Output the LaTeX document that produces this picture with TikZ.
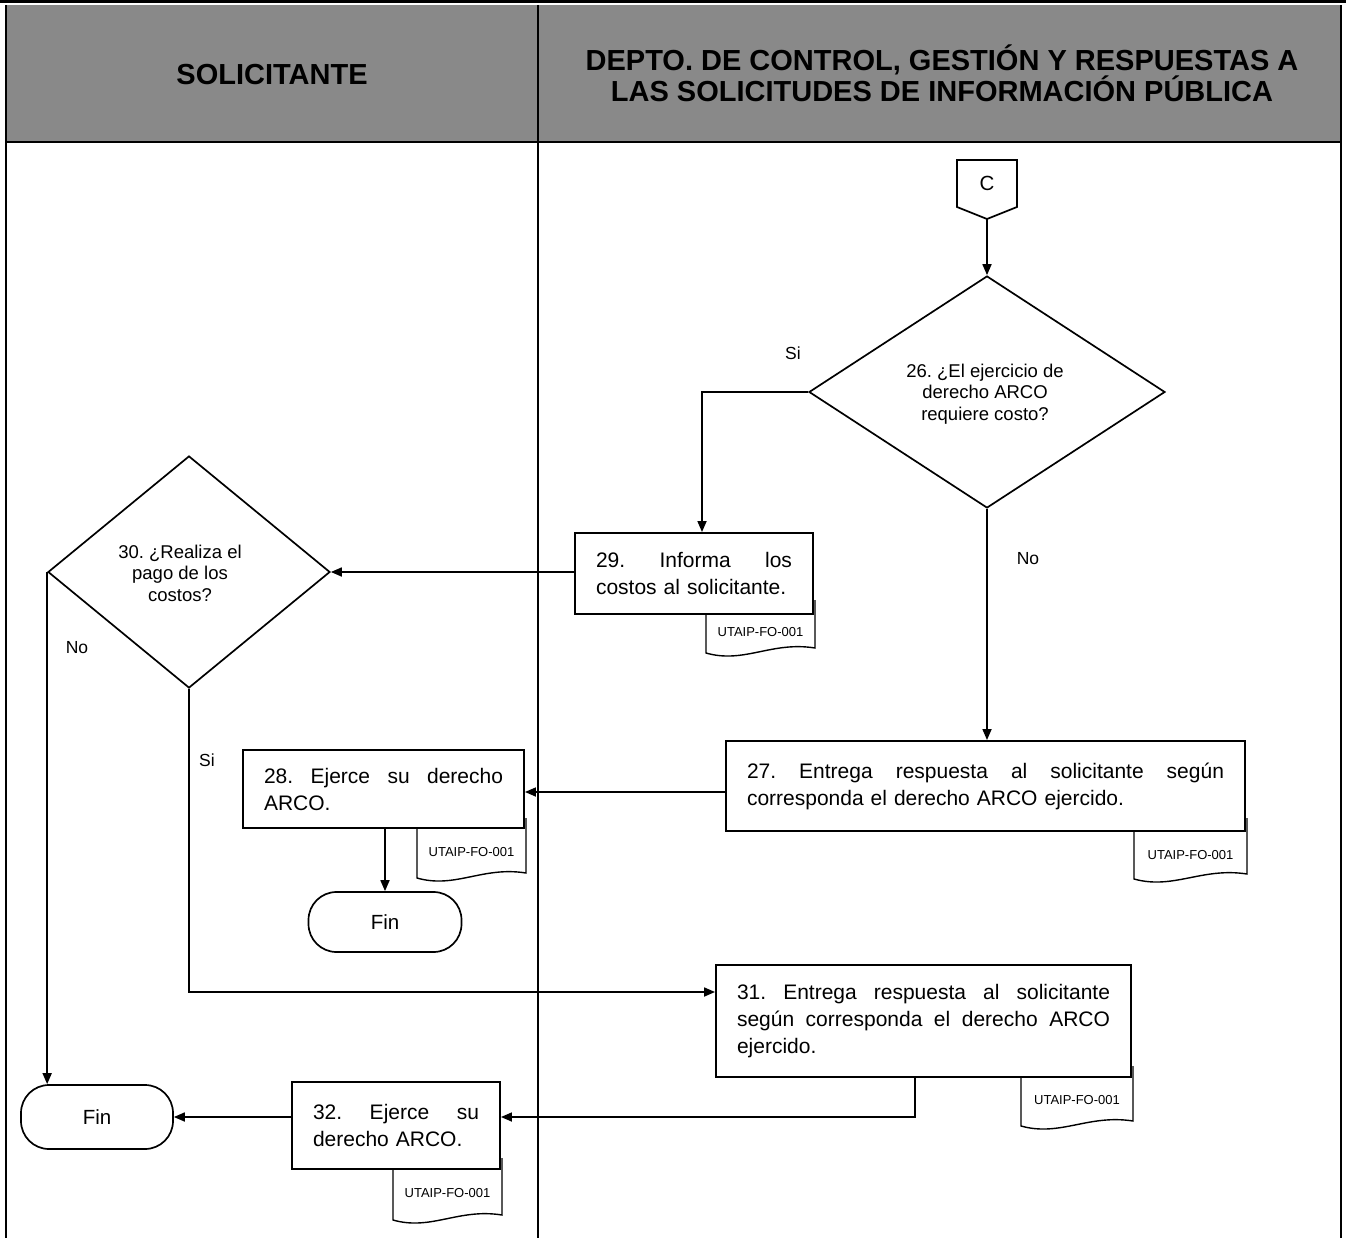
\documentclass[tikz,border=0pt]{standalone}
\usepackage{fontspec}
\setmainfont{Liberation Sans}
\usetikzlibrary{shapes.geometric,arrows.meta,calc}

\definecolor{hdrgray}{RGB}{137,137,137}

\tikzset{
  lane/.style={line width=2.2pt},
  arrow/.style={line width=1.7pt,-{Triangle[length=11pt,width=9pt]}},
  proc/.style={draw,line width=1.9pt,fill=white,rectangle,inner xsep=21pt,inner ysep=0pt,
               align=left,font=\fontsize{21}{27}\selectfont},
  decision/.style={draw,line width=1.7pt,shape=diamond,inner sep=0pt,fill=white},
  qtext/.style={align=center,font=\fontsize{18.5}{21.5}\selectfont,inner sep=0pt},
  term/.style={draw,line width=1.7pt,fill=white,rounded corners=28pt,inner sep=0pt,
               font=\fontsize{20.5}{24}\selectfont},
  tagtext/.style={font=\fontsize{13}{15}\selectfont,inner sep=0pt},
  lbl/.style={font=\fontsize{17.5}{20}\selectfont,inner sep=0pt},
  head/.style={font=\bfseries\fontsize{29}{30}\selectfont,align=center,inner sep=0pt},
  offpage/.style={line width=1.7pt,fill=white},
}

% justified line of a fixed width: interword spaces stretch to fill it
\newcommand{\jl}[2]{\leavevmode\hbox to #1{\spaceskip=0.28em plus 1fil\xspaceskip=0.28em plus 1fil #2}}

% document symbol hanging under a box: name, left x, right x, top y, bottom y, label y
\newcommand{\doctag}[6]{%
  \pgfmathsetmacro{\tgw}{#3-#2}%
  \draw[line width=1.4pt,fill=white] (#2,#4) -- (#2,#5)
     .. controls ({#2+0.35*\tgw},{#5+11}) and ({#2+0.6*\tgw},{#5-12}) .. (#3,{#5-5}) -- (#3,#4);
  \node[tagtext] (#1) at ({(#2+#3)/2},#6) {UTAIP-FO-001};
}

\begin{document}
\frenchspacing
\begin{tikzpicture}[x=1pt,y=-1pt]
\useasboundingbox (0,0) rectangle (1346,1238);

% ---- swimlane frame ----
\fill[hdrgray] (6,5) rectangle (1341,142);
\draw[line width=2.6pt] (0,1.3) -- (1346,1.3);
\draw[lane] (6,5) -- (6,1238);
\draw[lane] (538,5) -- (538,1238);
\draw[lane] (1341,5) -- (1341,1238);
\draw[line width=2.6pt] (6,142) -- (1341,142);

\node[head] (h1) at (272,75) {SOLICITANTE};
\node[head] (h2) at (942,73) {DEPTO. DE CONTROL, GESTIÓN Y RESPUESTAS A\\LAS SOLICITUDES DE INFORMACIÓN PÚBLICA};

% ---- off-page connector C ----
\draw[offpage] (957,160) -- (1017,160) -- (1017,207) -- (987,219) -- (957,207) -- cycle;
\node[font=\fontsize{20.5}{24}\selectfont,inner sep=0pt] (c) at (987,183) {C};
\coordinate (ctip) at (987,219);

% ---- document symbols (behind their boxes) ----
\doctag{t29}{706}{815}{600}{653}{632}
\doctag{t27}{1134}{1247}{818}{879}{855}
\doctag{t28}{417}{526}{818}{878}{852}
\doctag{t31}{1021}{1133}{1066}{1126}{1100}
\doctag{t32}{393}{502}{1158}{1220}{1193}

% ---- process boxes ----
\node[proc,minimum width=238pt,minimum height=81pt,text width=196pt] (b29) at (694,573.5)
  {\jl{196pt}{29. Informa los}\\costos al solicitante.};
\node[proc,minimum width=519pt,minimum height=90pt,text width=477pt] (b27) at (985.5,786)
  {\jl{477pt}{27. Entrega respuesta al solicitante según}\\corresponda el derecho ARCO ejercido.};
\node[proc,minimum width=281pt,minimum height=78pt,text width=239pt] (b28) at (383.5,789)
  {\jl{239pt}{28. Ejerce su derecho}\\ARCO.};
\node[proc,minimum width=415pt,minimum height=112pt,text width=373pt] (b31) at (923.5,1021)
  {\jl{373pt}{31. Entrega respuesta al solicitante}\\\jl{373pt}{según corresponda el derecho ARCO}\\ejercido.};
\node[proc,minimum width=208pt,minimum height=87pt,text width=166pt] (b32) at (396,1125.5)
  {\jl{166pt}{32. Ejerce su}\\derecho ARCO.};

% ---- decisions ----
\node[decision,minimum width=356pt,minimum height=232pt] (d26) at (987,392) {};
\node[qtext] (q26) at (985,394) {26. ¿El ejercicio de\\derecho ARCO\\requiere costo?};
\node[decision,minimum width=282pt,minimum height=232pt] (d30) at (189,572) {};
\node[qtext] (q30) at (180,573) {30. ¿Realiza el\\pago de los\\costos?};

% ---- terminators ----
\node[term,minimum width=153pt,minimum height=60pt] (fin1) at (385,922) {Fin};
\node[term,minimum width=152pt,minimum height=64pt] (fin2) at (97,1117) {Fin};

% ---- connectors ----
\coordinate (s29) at (702,392);
\coordinate (y27) at (0,792);
\coordinate (y31) at (0,992);
\coordinate (j31) at (915,1117);

\draw[arrow] (ctip) -- (d26.north);
\draw[arrow] (d26.west) -- (s29) -- (s29 |- b29.north);
\draw[arrow] (d26.south) -- (d26.south |- b27.north);
\draw[arrow] (b29.west |- d30.east) -- (d30.east);
\draw[arrow] (b27.west |- y27) -- (b28.east |- y27);
\draw[arrow] (fin1.north |- b28.south) -- (fin1.north);
\draw[arrow] (d30.south) -- (d30.south |- y31) -- (b31.west |- y31);
\draw[arrow] (d30.west) -- (d30.west |- fin2.north);
\draw[arrow] (j31 |- b31.south) -- (j31) -- (j31 -| b32.east);
\draw[arrow] (b32.west |- fin2.east) -- (fin2.east);

% ---- branch labels ----
\node[lbl] (si26) at (793,353) {Si};
\node[lbl] (no26) at (1028,559) {No};
\node[lbl] (no30) at (77,648) {No};
\node[lbl] (si30) at (207,760) {Si};
\end{tikzpicture}
\end{document}
